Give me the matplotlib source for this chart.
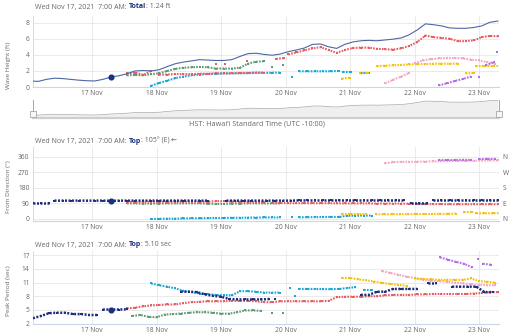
import numpy as np
import matplotlib
matplotlib.use("Agg")
import matplotlib.pyplot as plt
from matplotlib.patches import Rectangle

plt.rcParams["font.family"] = ["Open Sans", "DejaVu Sans"]

# ---------------------------------------------------------------------------
# Data: hours since 16 Nov 2021 00:00 HST, samples every 3 hours.
# Each swell partition is a list of (start_hour, values) segments.
# ---------------------------------------------------------------------------
STEP = 3
NOW_HOUR = 31                      # Wed Nov 17, 7:00 AM
day_ticks = [24, 48, 72, 96, 120, 144, 168]
day_labels = ["17 Nov", "18 Nov", "19 Nov", "20 Nov", "21 Nov", "22 Nov", "23 Nov"]

total_now = 1.24
top_dir_now = 105
top_period_now = 5.10

total_start = 1
total_ft = [0.75, 0.7, 0.95, 1.1, 1.05, 0.95, 0.85, 0.78, 0.75, 0.95,
            1.24, 1.4, 1.65, 2.0, 2.05, 2.0, 2.15, 2.55, 2.9, 3.1,
            3.25, 3.4, 3.35, 3.3, 3.3, 3.4, 3.8, 4.15, 4.2, 4.05,
            3.95, 4.1, 4.4, 4.6, 4.85, 5.3, 5.35, 5.0, 4.8, 5.3,
            5.6, 5.75, 5.8, 5.75, 5.85, 5.95, 6.1, 6.5, 7.1, 7.85,
            7.75, 7.6, 7.35, 7.3, 7.3, 7.4, 7.6, 8.05, 8.2]

# Wave height (ft)
red_height = [
    (37, [1.7, 1.8, 1.5, 2.0]),
    (49, [1.55, 1.55, 1.6, 1.6, 1.6, 1.65, 1.65, 1.7, 1.7, 1.7, 1.75, 1.75, 1.8, 1.8]),
    (70, [2.85]), (73.5, [2.8]), (81.5, [3.2]),
    (92.5, [3.5, 3.6]),
    (97, [4.05, 4.3, 4.55, 4.8, 4.95, 4.6, 4.25, 4.6, 4.85, 4.9, 4.9, 4.75, 4.7, 4.65,
          4.8, 5.1, 5.6, 6.4, 6.2, 6.1, 6.0, 5.7, 5.7, 5.8, 6.2, 6.35, 6.3]),
]
green_height = [
    (37, [1.45, 1.5, 1.45, 1.6, 1.7, 2.0, 2.25, 2.4, 2.45, 2.5, 2.45, 2.3, 2.3, 2.3,
          2.4, 2.9, 3.15, 3.2]),
    (91, [2.5]), (95, [2.75]),
]
cyan_height = [
    (46, [0.15, 0.5, 0.8, 1.1, 1.3, 1.45, 1.55, 1.62, 1.65, 1.68, 1.7, 1.7, 1.72, 1.75,
          1.75, 1.78, 1.78]),
    (98.5, [1.3]),
    (101, [1.95, 1.95, 1.95, 1.95, 1.95, 2.0]),
    (117.5, [1.85, 1.85]),
    (124, [1.75, 1.75]),
]
yellow_height = [
    (117, [1.05, 1.15]),
    (123.5, [1.7, 1.75]),
    (130, [2.6, 2.65, 2.7, 2.75, 2.8, 2.85, 2.85, 2.9, 2.9, 2.9, 2.9]),
    (163, [1.7, 1.75]),
    (167, [2.65, 2.65, 2.65, 2.65]),
]
pink_height = [
    (133, [0.45, 0.9, 1.3, 1.75]),
    (144, [2.95, 3.3, 3.45, 3.55, 3.6, 3.6, 3.55, 3.4, 3.3, 3.1, 2.9]),
]
purple_height = [
    (153, [0.2, 0.45, 0.75, 1.0, 1.3]),
    (168, [1.2]),
    (170.5, [2.7, 3.1]),
    (174.5, [4.4]),
]

# From direction (degrees)
navy_dir = [
    (2, [95, 95, 95]),
    (10, [106, 106, 106, 106, 106, 106, 106, 105, 106, 106, 106, 106, 106, 106, 106,
          106, 106, 106, 106, 106]),
    (74, [106, 106, 106, 106, 106, 106, 106, 106, 106, 107, 107, 107, 107, 107, 107,
          107, 107, 107, 107, 107, 107, 107, 107]),
    (142.5, [94, 94, 94]),
    (151, [107, 107, 107, 107, 107, 107, 107, 107, 107]),
]
red_dir = [
    (37, [99, 99, 100, 100, 100, 100, 100, 100, 100, 100, 100, 103, 103, 101, 100, 100,
          99, 99]),
    (91, [92, 92, 91, 91, 91, 91, 91, 91, 90, 90, 90, 90, 90, 89, 89, 89, 89, 88, 87,
          86, 86, 86, 85, 85, 85, 85, 85, 85, 85]),
]
green_dir = [
    (37, [90, 90, 89, 89, 89, 90, 90, 90, 90, 90, 89, 87, 87, 89, 89, 90, 90, 90, 90, 90]),
]
cyan_dir = [
    (46, [0, 1, 2, 2, 3, 4, 4, 5, 6, 6, 7, 7, 8, 8, 9, 9, 9]),
    (98.5, [10]),
    (101, [10, 10, 11, 11, 12, 12, 19, 19, 20, 20]),
]
yellow_dir = [
    (117, [29, 29, 29, 29]),
    (129.5, [27, 27, 28, 28, 28, 29, 29, 29, 30, 30, 31]),
    (162.5, [39, 39]),
    (167, [33, 33, 33, 34]),
]
pink_dir = [
    (133, [322, 328, 330, 330, 331, 332, 333, 334, 335, 336, 336, 337, 338, 338, 338]),
]
purple_dir = [
    (153, [341, 341, 341, 342, 342]),
    (168, [346, 347, 347]),
]

# Peak period (sec)
navy_period = [
    (2, [3.2, 3.7, 4.3, 4.4, 4.4, 4.1, 4.1, 3.9, 3.9]),
    (28, [5.1, 5.1, 5.1, 5.15]),
    (57, [9.0, 9.0, 8.9, 8.4, 8.1, 7.9, 7.4, 7.3, 7.3, 7.3, 7.3, 7.4]),
    (92, [7.4]),
    (124, [8.3, 8.3, 9.0, 9.0, 9.6, 9.6, 9.6, 9.6]),
    (149, [10.8, 10.8]),
    (158, [10.1, 10.1, 10.1, 10.1, 8.9, 8.9]),
]
red_period = [
    (37, [5.35, 5.5, 5.8, 6.0, 6.1, 6.2, 6.2, 6.5, 6.7, 6.8, 6.9, 6.9, 6.9, 7.0, 7.0,
          7.0, 6.9, 6.7, 6.7, 6.9, 6.9, 6.9, 6.9, 6.9, 6.9, 7.0, 7.8, 7.9, 7.9, 7.9,
          8.0, 8.0, 8.2, 8.3, 8.3, 8.3, 8.4, 8.4, 8.5, 8.5, 8.5, 8.5, 8.5, 8.6, 8.7,
          8.9, 8.9]),
]
green_period = [
    (39, [3.7, 3.9, 3.5, 3.4, 4.0, 4.1, 4.2, 4.4, 4.5, 4.5, 4.4, 4.2, 4.2, 4.5, 4.9,
          4.9, 4.8]),
    (91, [4.3]), (95, [4.4]),
]
cyan_period = [
    (46, [10.8, 10.4, 10.1, 9.7, 9.2, 8.9, 8.6, 8.45, 8.3, 8.25, 8.2, 9.1, 9.1, 9.0,
          8.8, 8.8, 8.8]),
    (97.5, [9.9]), (99.5, [8.1]),
    (101, [9.6, 9.6, 9.6, 9.55, 9.55, 9.6, 9.8, 10.0]),
    (125, [9.35, 9.35]),
]
yellow_period = [
    (117, [12.0, 12.0, 11.7, 11.5, 11.2, 10.9, 10.7, 10.5, 10.3]),
    (144, [11.9, 11.8, 11.7, 11.6, 11.6, 11.6, 11.6, 11.9, 11.3, 11.2, 11.0]),
]
pink_period = [
    (132, [13.5, 13.1, 12.7, 12.3, 12.0, 11.6, 11.4, 11.3, 11.2, 11.0, 10.8, 10.6,
           10.5, 10.4, 10.4]),
]
purple_period = [
    (153.5, [16.5, 16.0, 15.5, 15.1, 14.3]),
    (167.5, [16.1]),
    (169.5, [15.1, 14.9]),
]

# ---------------------------------------------------------------------------
NAVY = "#1c2f7d"
TOTAL = "#4d67a5"
RED = "#e85d63"
GREEN = "#5f9c76"
CYAN = "#1ba6d8"
YELLOW = "#f4c20d"
PINK = "#f3a6c6"
PURPLE = "#b66ce6"
GRID = "#e6e6e6"
AXIS = "#ccd6eb"
LABEL = "#666666"

W, H = 512, 336
fig = plt.figure(figsize=(W / 100, H / 100), dpi=100)
fig.patch.set_facecolor("white")


def rect(left, top, right, bottom):
    return [left / W, 1 - bottom / H, (right - left) / W, (bottom - top) / H]


X0, X1 = 2, 175.4


def style_axis(ax, yticks, ylim, ylabel, label_y):
    ax.set_xlim(X0, X1)
    ax.set_ylim(*ylim)
    ax.set_xticks(day_ticks)
    ax.set_xticklabels(day_labels)
    ax.set_yticks(yticks)
    ax.grid(True, color=GRID, lw=0.6)
    ax.set_axisbelow(True)
    for s in ("top", "right"):
        ax.spines[s].set_visible(False)
    ax.spines["left"].set_color(AXIS)
    ax.spines["left"].set_linewidth(0.6)
    ax.spines["bottom"].set_color(AXIS)
    ax.spines["bottom"].set_linewidth(0.8)
    ax.tick_params(length=0, labelsize=4.8, labelcolor=LABEL, pad=2.5)
    ax.set_ylabel(ylabel, fontsize=4.6, color=LABEL)
    ax.yaxis.set_label_coords(-0.047, label_y)


def draw_series(ax, segments, color, lw=1.5, ms=1.5, z=2):
    for start, vals in segments:
        t = start + STEP * np.arange(len(vals))
        ax.plot(t, vals, color=color, lw=lw, ls=(0, (0.8, 0.6)),
                dash_capstyle="butt", marker="s", ms=ms, mew=0, zorder=z)


renderer = fig.canvas.get_renderer()


def title(y_px, pieces):
    x = 35
    for txt, color, weight, gap in pieces:
        t = fig.text(x / W, 1 - y_px / H, txt, color=color, fontweight=weight,
                     fontsize=5, va="center", ha="left")
        bb = t.get_window_extent(renderer)
        x = bb.x1 + gap


# ---- Panel 1: wave height ----
ax1 = fig.add_axes(rect(33, 16, 499, 87))
style_axis(ax1, [0, 2, 4, 6, 8], (0, 8.83), "Wave Height (ft)", 0.30)
draw_series(ax1, green_height, GREEN)
draw_series(ax1, cyan_height, CYAN)
draw_series(ax1, yellow_height, YELLOW)
draw_series(ax1, pink_height, PINK)
draw_series(ax1, purple_height, PURPLE)
draw_series(ax1, red_height, RED)
t_total = total_start + STEP * np.arange(len(total_ft))
ax1.plot(t_total, total_ft, color=TOTAL, lw=0.8, zorder=4)
ax1.plot(NOW_HOUR, total_now, "o", color=NAVY, ms=3.4, zorder=5)
title(7, [("Wed Nov 17, 2021  7:00 AM:", LABEL, "normal", 1.8),
          ("Total", NAVY, "bold", 0),
          (f": {total_now:.2f} ft", LABEL, "normal", 0)])

# ---- Navigator ----
nav = fig.add_axes(rect(33, 100, 499, 118))
nav.set_xlim(X0, X1)
nav.set_ylim(-0.8, 8.4)
nav.fill_between(t_total, total_ft, -0.8, color="#efefef", lw=0)
nav.plot(t_total, total_ft, color="#a8a8a8", lw=0.5)
nav.set_xticks([])
nav.set_yticks([])
for s in ("top", "right", "left"):
    nav.spines[s].set_visible(False)
nav.spines["bottom"].set_color("#cfcfcf")
nav.spines["bottom"].set_linewidth(1.6)
for xa in (0.0, 1.0):
    nav.plot([xa, xa], [0, 1], transform=nav.transAxes, color="#999999", lw=0.6,
             clip_on=False)
    nav.add_patch(Rectangle((xa - 0.0055, 0.05), 0.011, 0.36, transform=nav.transAxes,
                            facecolor="#f7f7f7", edgecolor="#999999", lw=0.5,
                            clip_on=False, zorder=5))
fig.text(257 / W, 1 - 124 / H, "HST: Hawai\u2018i Standard Time (UTC -10:00)",
         fontsize=5.2, color=LABEL, ha="center", va="center")

# ---- Panel 2: direction ----
ax2 = fig.add_axes(rect(33, 147, 499, 221))
style_axis(ax2, [0, 90, 180, 270, 360], (-11.6, 416), "From Direction (\u00b0)", 0.46)
draw_series(ax2, cyan_dir, CYAN)
draw_series(ax2, yellow_dir, YELLOW)
draw_series(ax2, pink_dir, PINK)
draw_series(ax2, purple_dir, PURPLE)
draw_series(ax2, green_dir, GREEN)
draw_series(ax2, red_dir, RED)
draw_series(ax2, navy_dir, NAVY, lw=1.8, ms=1.8, z=3)
ax2.plot(NOW_HOUR, top_dir_now, "o", color=NAVY, ms=3.4, zorder=5)
ax2r = ax2.twinx()
ax2r.set_ylim(ax2.get_ylim())
ax2r.set_yticks([0, 90, 180, 270, 360])
ax2r.set_yticklabels(["N", "E", "S", "W", "N"])
ax2r.tick_params(length=0, labelsize=4.8, labelcolor=LABEL, pad=2.5)
for s in ax2r.spines.values():
    s.set_visible(False)
title(141, [("Wed Nov 17, 2021  7:00 AM:", LABEL, "normal", 1.8),
            ("Top", NAVY, "bold", 0),
            (f": {top_dir_now}\u00b0 (E)", LABEL, "normal", 1.5)])
fig.texts[-1]
arrow_x = fig.texts[-1].get_window_extent(renderer).x1 + 1.5
fig.text(arrow_x / W, 1 - 141 / H, "\u21dc", fontsize=5, color=LABEL,
         family="DejaVu Sans", ha="left", va="center")

# ---- Panel 3: peak period ----
ax3 = fig.add_axes(rect(33, 251, 499, 324))
style_axis(ax3, [2, 5, 8, 11, 14, 17], (1.934, 17.9), "Peak Period (sec)", 0.45)
draw_series(ax3, green_period, GREEN)
draw_series(ax3, cyan_period, CYAN)
draw_series(ax3, pink_period, PINK)
draw_series(ax3, yellow_period, YELLOW)
draw_series(ax3, purple_period, PURPLE)
draw_series(ax3, red_period, RED)
draw_series(ax3, navy_period, NAVY, lw=1.8, ms=1.8, z=3)
ax3.plot(NOW_HOUR, top_period_now, "o", color=NAVY, ms=3.4, zorder=5)
title(245, [("Wed Nov 17, 2021  7:00 AM:", LABEL, "normal", 1.8),
            ("Top", NAVY, "bold", 0),
            (f": {top_period_now:.2f} sec", LABEL, "normal", 0)])

fig.savefig("out.png", dpi=100, facecolor="white")
